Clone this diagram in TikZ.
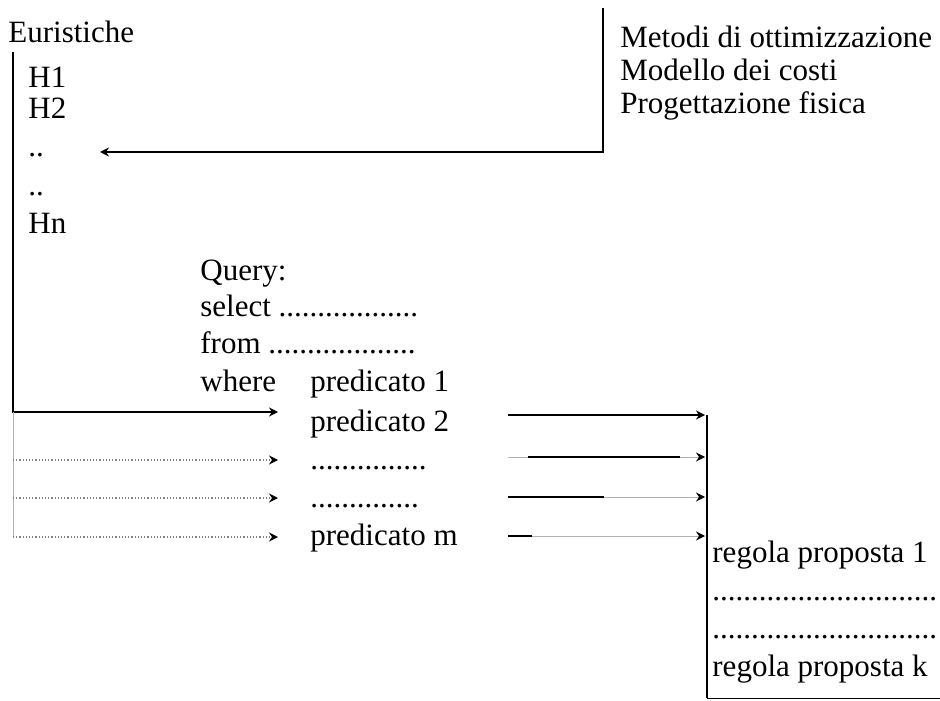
\documentclass[tikz,border=0pt]{standalone}
\usepackage{fontspec}
\setmainfont{Liberation Serif}
\usetikzlibrary{arrows.meta,positioning}

\begin{document}
\begin{tikzpicture}[
    x=0.5pt, y=-0.5pt,
    txt/.style={anchor=base west,inner sep=0pt,font=\fontsize{15.5}{18}\selectfont},
    heavy/.style={line width=1pt,black},
    faint/.style={line width=0.5pt,gray!60},
    dotline/.style={line width=0.6pt,densely dotted,gray},
    tip/.style={-{Stealth[length=4.5pt,width=4.5pt,inset=1.5pt,black]}}
]
    \useasboundingbox (0,0) rectangle (940,700);

    % heuristics
    \node[txt] (euristiche) at (8,43) {Euristiche};
    \node[txt] (h1) at (28,88) {H1};
    \node[txt] (h2) at (28,119) {H2};
    \node[txt] (hdots1) at (28,157) {..};
    \node[txt] (hdots2) at (28,196) {..};
    \node[txt] (hn) at (28,233) {Hn};

    % sources of the heuristics
    \node[txt] (metodi) at (620,48) {Metodi di ottimizzazione};
    \node[txt] (costi) at (620,81) {Modello dei costi};
    \node[txt] (progetto) at (620,114) {Progettazione fisica};

    % query
    \node[txt] (query) at (200,280) {Query:};
    \node[txt] (select) at (200,316) {select ..................};
    \node[txt] (from) at (200,353) {from ...................};
    \node[txt] (where) at (200,391) {where};
    \node[txt] (pred1) at (310,391) {predicato 1};
    \node[txt] (pred2) at (310,431) {predicato 2};
    \node[txt] (pdots1) at (310,469) {...............};
    \node[txt] (pdots2) at (310,507) {..............};
    \node[txt] (predm) at (310,545) {predicato m};

    % proposed rules
    \node[txt] (regola1) at (712,562) {regola proposta 1};
    \node[txt] (rdots1) at (712,600) {.............................};
    \node[txt] (rdots2) at (712,638) {.............................};
    \node[txt] (regolak) at (712,676) {regola proposta k};

    % coordinates of the connectors
    \coordinate (mTop) at (603,8);
    \coordinate (mCorner) at (603,152);
    \coordinate (mTip) at (100,152);
    \coordinate (hTop) at (13,52);
    \coordinate (hCorner) at (13,412);
    \coordinate (hEnd) at (13,537);
    \coordinate (inA) at (278,412);
    \coordinate (sB) at (13,460);
    \coordinate (inB) at (278,460);
    \coordinate (sC) at (13,498);
    \coordinate (inC) at (278,498);
    \coordinate (sD) at (13,537);
    \coordinate (inD) at (278,537);
    \coordinate (rTop) at (707,415);
    \coordinate (rBottom) at (707,698);
    \coordinate (rEdge) at (940,698);

    \draw[heavy,tip] (mTop) -- (mCorner) -- (mTip);
    \draw[heavy,tip] (hTop) -- (hCorner) -- (inA);
    \draw[faint] (hCorner) -- (hEnd);
    \draw[dotline,tip] (sB) -- (inB);
    \draw[dotline,tip] (sC) -- (inC);
    \draw[dotline,tip] (sD) -- (inD);

    % predicates to rules
    \draw[heavy,tip] (508,415) -- (705,415);
    \draw[faint] (508,457) -- (528,457);
    \draw[heavy] (528,457) -- (680,457);
    \draw[faint,tip] (680,457) -- (705,457);
    \draw[heavy] (508,497) -- (604,497);
    \draw[faint,tip] (604,497) -- (705,497);
    \draw[heavy] (508,536) -- (532,536);
    \draw[faint,tip] (532,536) -- (705,536);

    \draw[heavy] (rTop) -- (rBottom);
    \draw[line width=0.5pt] (rBottom) -- (rEdge);
\end{tikzpicture}
\end{document}
